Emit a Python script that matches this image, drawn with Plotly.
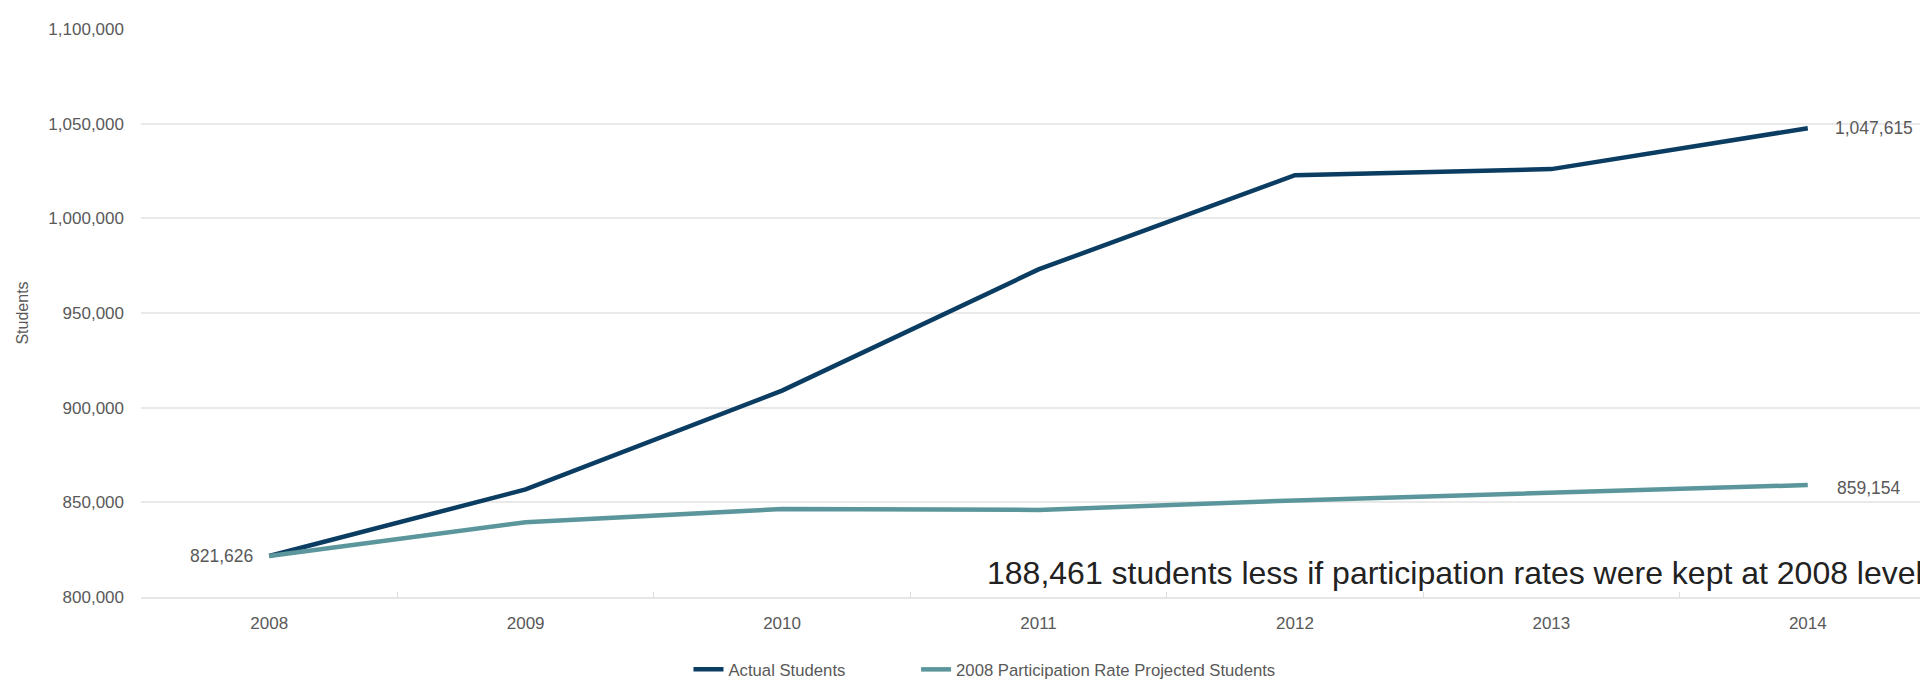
import plotly.graph_objects as go

years = ["2008", "2009", "2010", "2011", "2012", "2013", "2014"]
actual_students = [821626, 856800, 909000, 973000, 1022800, 1026000, 1047615]
projected_students = [821626, 839500, 846500, 846000, 851000, 855000, 859154]
y_ticks = [800000, 850000, 900000, 950000, 1000000, 1050000, 1100000]
y_tick_labels = ["800,000", "850,000", "900,000", "950,000", "1,000,000", "1,050,000", "1,100,000"]
note_text = "188,461 students less if participation rates were kept at 2008 level"
note_y = 812500

FONT = "Liberation Sans, Arial, sans-serif"
GRAY = "#595959"

fig = go.Figure()
fig.add_trace(go.Scatter(
    x=years, y=actual_students, mode="lines", name="Actual Students",
    line=dict(color="#0b3d62", width=4.5), legend="legend",
))
fig.add_trace(go.Scatter(
    x=years, y=projected_students, mode="lines",
    name="2008 Participation Rate Projected Students",
    line=dict(color="#5b969c", width=4.5), legend="legend2",
))

# end-point data labels (category axis positions by index)
first, last = 0, len(years) - 1
fig.add_annotation(x=first, y=actual_students[first], text=f"{actual_students[first]:,}",
                   showarrow=False, xanchor="right", xshift=-14,
                   font=dict(family=FONT, size=17.5, color=GRAY))
fig.add_annotation(x=last, y=actual_students[last], text=f"{actual_students[last]:,}",
                   showarrow=False, xanchor="left", xshift=25,
                   font=dict(family=FONT, size=17.5, color=GRAY))
fig.add_annotation(x=last, y=projected_students[last], text=f"{projected_students[last]:,}",
                   showarrow=False, xanchor="left", xshift=27, yshift=-3,
                   font=dict(family=FONT, size=17.5, color=GRAY))
fig.add_annotation(xref="paper", x=1, y=note_y, text=note_text, showarrow=False,
                   xanchor="right", xshift=-11,
                   font=dict(family=FONT, size=32, color="#222222"))

legend_style = dict(orientation="h", xanchor="left", y=-0.128, yanchor="middle",
                    font=dict(family=FONT, size=16.7, color=GRAY),
                    bgcolor="rgba(0,0,0,0)")

fig.update_layout(
    width=1928, height=679,
    margin=dict(l=133, r=0, t=21, b=82),
    paper_bgcolor="white", plot_bgcolor="white",
    font=dict(family=FONT, size=17, color=GRAY),
    showlegend=True,
    legend=dict(x=0.305, **legend_style),
    legend2=dict(x=0.4318, **legend_style),
    xaxis=dict(type="category", showgrid=False, showline=True, linecolor="#e6e6e6", linewidth=2,
               tickson="boundaries", ticks="inside", ticklen=5, tickcolor="#dddddd",
               tickfont=dict(family=FONT, size=17, color=GRAY), ticklabelstandoff=10,
               range=[-0.5, 6.5], zeroline=False),
    yaxis=dict(range=[800000, 1100000], tickvals=y_ticks, ticktext=y_tick_labels,
               showgrid=True, gridcolor="#e9e9e9", gridwidth=2, zeroline=False,
               showline=False, ticks="", ticklabelstandoff=16,
               tickfont=dict(family=FONT, size=17, color=GRAY),
               title=dict(text="Students", standoff=15,
                          font=dict(family=FONT, size=16, color=GRAY))),
)

fig.write_html("out.html")
